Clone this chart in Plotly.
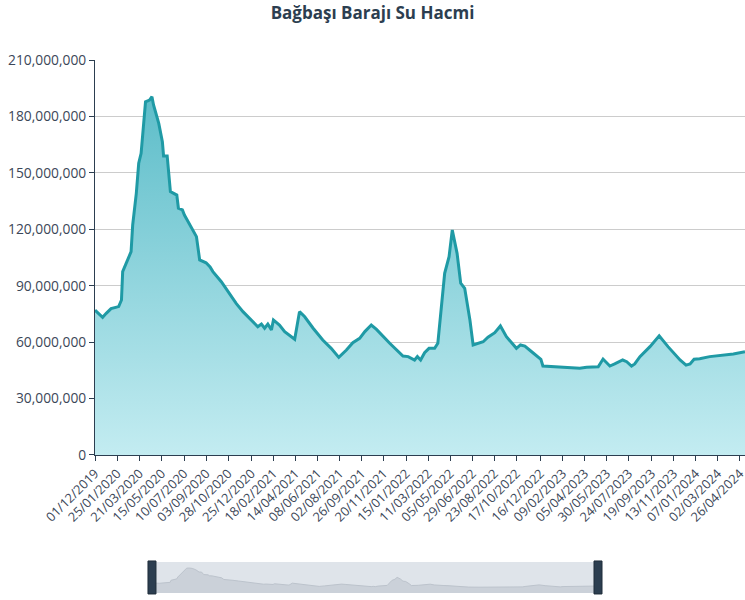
import pandas as pd
import plotly.graph_objects as go

# Bağbaşı dam water volume (m³)
DATES = [
    "2019-12-01", "2019-12-20", "2019-12-29", "2020-01-10", "2020-01-29",
    "2020-02-05", "2020-02-08", "2020-02-17", "2020-02-29", "2020-03-04",
    "2020-03-13", "2020-03-19", "2020-03-25", "2020-04-05", "2020-04-15",
    "2020-04-21", "2020-04-25", "2020-05-08", "2020-05-17", "2020-05-20",
    "2020-05-29", "2020-06-06", "2020-06-22", "2020-06-26", "2020-07-06",
    "2020-07-11", "2020-08-10", "2020-08-18", "2020-09-03", "2020-09-13",
    "2020-09-20", "2020-10-11", "2020-11-17", "2020-12-04", "2020-12-29",
    "2021-01-10", "2021-01-19", "2021-01-27", "2021-02-04", "2021-02-13",
    "2021-02-18", "2021-03-05", "2021-03-18", "2021-04-12", "2021-04-24",
    "2021-05-07", "2021-05-28", "2021-06-21", "2021-07-12", "2021-07-31",
    "2021-08-19", "2021-09-04", "2021-09-21", "2021-10-04", "2021-10-20",
    "2021-11-02", "2021-12-05", "2022-01-07", "2022-01-20", "2022-02-05",
    "2022-02-12", "2022-02-20", "2022-03-02", "2022-03-13", "2022-03-27",
    "2022-04-04", "2022-04-21", "2022-05-02", "2022-05-10", "2022-05-22",
    "2022-05-31", "2022-06-10", "2022-06-23", "2022-07-01", "2022-07-26",
    "2022-08-07", "2022-08-24", "2022-09-07", "2022-09-22", "2022-10-17",
    "2022-10-27", "2022-11-07", "2022-11-24", "2022-12-17", "2022-12-22",
    "2023-01-25", "2023-03-07", "2023-03-24", "2023-04-10", "2023-05-09",
    "2023-05-21", "2023-06-07", "2023-06-19", "2023-07-09", "2023-07-19",
    "2023-07-31", "2023-08-08", "2023-08-21", "2023-09-15", "2023-10-08",
    "2023-10-30", "2023-11-29", "2023-12-14", "2023-12-24", "2024-01-03",
    "2024-01-17", "2024-02-11", "2024-03-16", "2024-04-10", "2024-05-09",
]
VOLUME_M = [
    77.0, 73.2, 75.3, 77.8, 78.9,
    82.4, 97.5, 101.9, 108.1, 122.3,
    139.1, 155.1, 160.4, 187.8, 188.7,
    190.5, 186.1, 176.3, 166.6, 159.0,
    159.0, 140.0, 138.2, 131.2, 130.3,
    127.6, 116.1, 103.7, 102.2, 100.0,
    97.5, 92.1, 80.6, 76.2, 70.9,
    68.2, 69.6, 67.4, 69.6, 66.5,
    71.8, 69.1, 65.6, 61.5, 76.2,
    73.5, 67.4, 61.1, 56.7, 51.9,
    55.8, 59.7, 62.0, 65.6, 69.1,
    66.8, 59.4, 52.6, 52.3, 50.5,
    52.3, 50.5, 54.4, 56.7, 56.7,
    59.4, 96.6, 105.4, 119.6, 107.2,
    91.3, 88.6, 71.8, 58.5, 60.2,
    62.6, 65.0, 68.6, 62.9, 56.7,
    58.5, 57.9, 54.9, 50.9, 47.3,
    46.9, 46.1, 46.1, 46.6, 46.9,
    51.0, 47.3, 48.4, 50.5, 49.6,
    47.3, 48.4, 52.3, 57.6, 63.4,
    57.6, 50.5, 47.8, 48.4, 50.9,
    51.2, 52.3, 53.0, 53.7, 54.9,
]
TICK_LABELS = [
    "01/12/2019", "25/01/2020", "21/03/2020", "15/05/2020", "10/07/2020",
    "03/09/2020", "28/10/2020", "25/12/2020", "18/02/2021", "14/04/2021",
    "08/06/2021", "02/08/2021", "26/09/2021", "20/11/2021", "15/01/2022",
    "11/03/2022", "05/05/2022", "29/06/2022", "23/08/2022", "17/10/2022",
    "16/12/2022", "09/02/2023", "05/04/2023", "30/05/2023", "24/07/2023",
    "19/09/2023", "13/11/2023", "07/01/2024", "02/03/2024", "26/04/2024",
]

dates = pd.to_datetime(DATES)
volume = [v * 1e6 for v in VOLUME_M]
tick_vals = pd.to_datetime(TICK_LABELS, format="%d/%m/%Y")

TEXT = "#3b4758"
DARK = "#2c3e50"
FONT = "Open Sans"

fig = go.Figure()

fig.add_trace(go.Scatter(
    x=dates, y=volume,
    mode="lines",
    line=dict(color="#1f9aa5", width=3),
    fill="tozeroy",
    fillgradient=dict(type="vertical", start=0, stop=max(volume),
                      colorscale=[[0, "#c3ecf1"], [1, "#5dbdc9"]]),
    hoverinfo="x+y",
    showlegend=False,
))

# mini overview like the echarts dataZoom slider
span = max(volume) - min(volume)
fig.add_trace(go.Scatter(
    x=dates, y=volume,
    xaxis="x2", yaxis="y2",
    mode="lines",
    line=dict(color="#bcc3cc", width=1),
    fill="tozeroy", fillcolor="#cbd1d9",
    hoverinfo="skip",
    showlegend=False,
))

fig.update_layout(
    width=745, height=600,
    margin=dict(l=95, r=0, t=60, b=5),
    paper_bgcolor="white", plot_bgcolor="white",
    font=dict(family=FONT, color=TEXT),
    title=dict(text="<b>Bağbaşı Barajı Su Hacmi</b>",
               font=dict(size=17, color=DARK, family=FONT),
               x=0.5, xref="container", xanchor="center",
               y=0.978, yref="container", yanchor="middle"),
    xaxis=dict(
        type="date",
        domain=[0, 1],
        range=[dates[0], dates[-1]],
        tickvals=tick_vals, ticktext=TICK_LABELS,
        tickangle=-45,
        tickfont=dict(size=12.8, color=TEXT),
        ticklabeloverflow="allow",
        ticks="outside", ticklen=5, tickcolor=DARK,
        showline=True, linecolor=DARK, linewidth=1,
        showgrid=False, zeroline=False,
        automargin=False,
        anchor="y",
    ),
    yaxis=dict(
        domain=[0.2617, 1],
        range=[0, 210e6], dtick=30e6,
        tickformat=",",
        tickfont=dict(size=13.8, color=TEXT),
        ticks="outside", ticklen=5, tickcolor=DARK,
        showline=True, linecolor=DARK, linewidth=1,
        gridcolor="#cccccc", zeroline=False,
        automargin=False,
        anchor="x",
    ),
    xaxis2=dict(
        type="date",
        domain=[0.0877, 0.7738],
        range=[dates[0], dates[-1]],
        visible=False, anchor="y2", automargin=False,
    ),
    yaxis2=dict(
        domain=[0.0037, 0.0617],
        range=[min(volume) - 0.3 * span, max(volume) + 0.3 * span],
        visible=False, anchor="x2", automargin=False,
    ),
    shapes=[
        dict(type="rect", xref="x2 domain", yref="y2 domain",
             x0=0, x1=1, y0=0, y1=1, layer="below",
             fillcolor="#dfe4ea", line=dict(width=0)),
        dict(type="rect", xref="paper", yref="paper",
             x0=0.0815, x1=0.0938, y0=0.0019, y1=0.0636,
             fillcolor=DARK, line=dict(color="#1f2d3a", width=1)),
        dict(type="rect", xref="paper", yref="paper",
             x0=0.7677, x1=0.7800, y0=0.0019, y1=0.0636,
             fillcolor=DARK, line=dict(color="#1f2d3a", width=1)),
    ],
)

# drop the browser's default 8px body margin so the figure sits at the page corner
fig.write_html("out.html", config={"displayModeBar": False},
               post_script="document.body.style.margin = '0';")
